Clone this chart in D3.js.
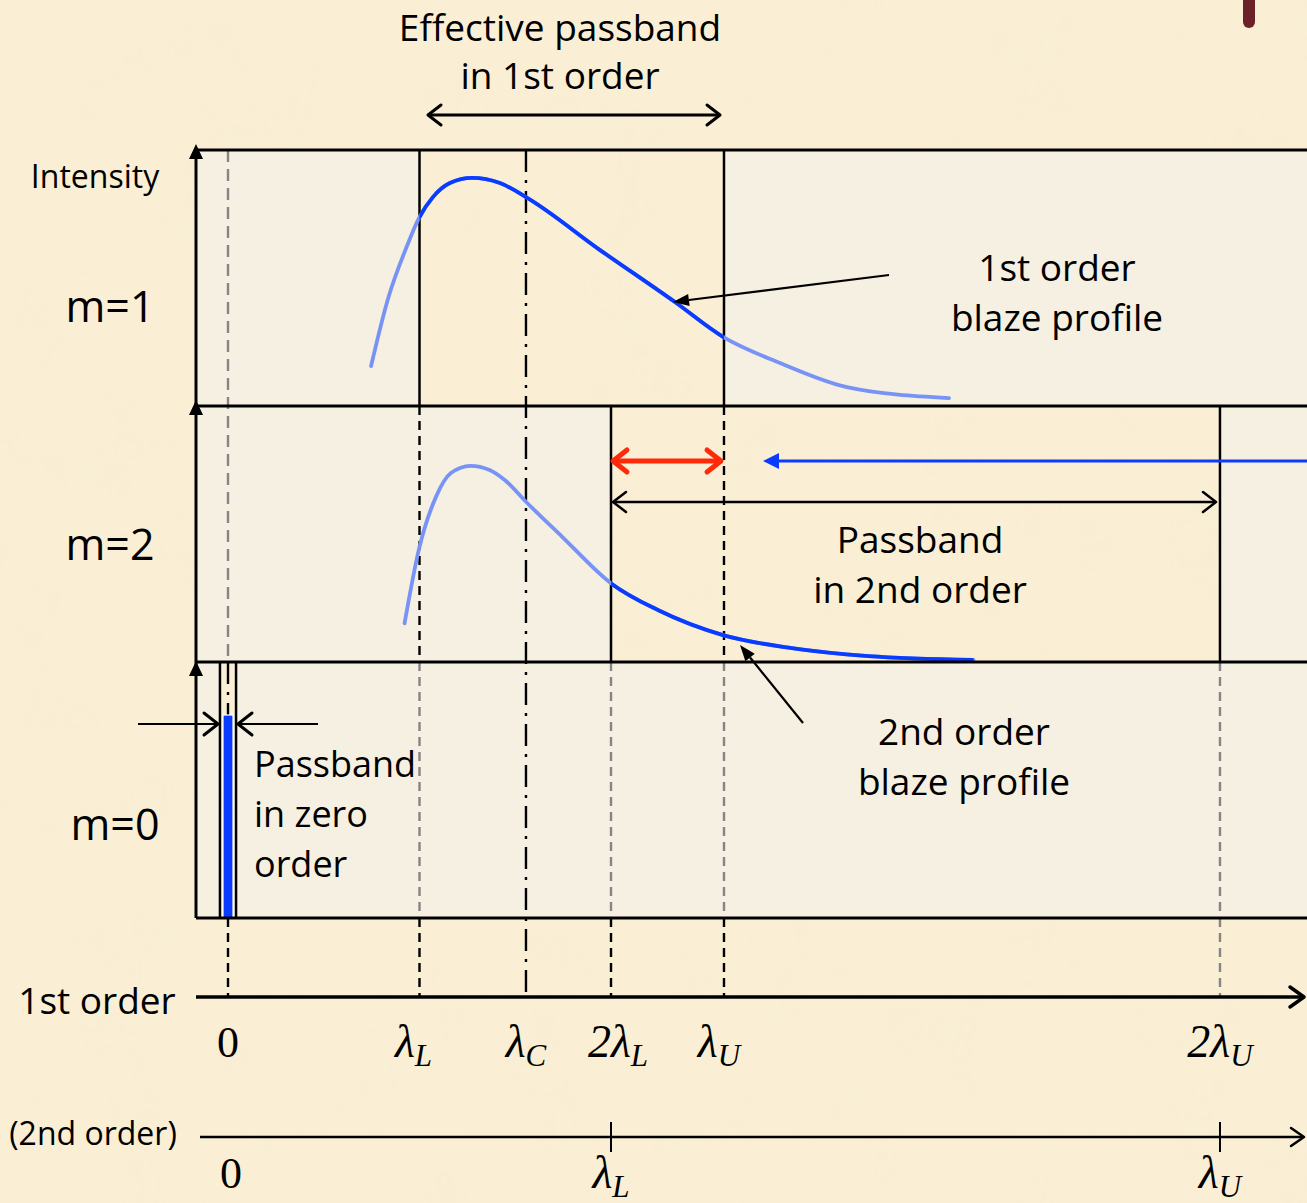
<!DOCTYPE html>
<html>
<head>
<meta charset="utf-8">
<title>Grating orders and passbands</title>
<script src="https://cdn.jsdelivr.net/npm/d3@7"></script>
<style>
  body { margin: 0; background: #f9eed4; }
  svg text { font-family: "Open Sans", Lato, sans-serif; fill: #000; }
  svg text.math { font-family: "Liberation Serif", "DejaVu Serif", serif; font-style: italic; }
</style>
</head>
<body>
<svg id="chart" width="1307" height="1203"></svg>
<script>
// wavelengths, in units of lambda_L
const lambdaL = 1.0, lambdaC = 1.556, lambdaU = 2.59;
const zeroBand = [-0.042, 0.042];

// blaze profiles (x in lambda_L units, relative intensity)
const blaze1X = [0.747, 0.836, 0.933, 0.997, 1.070, 1.159, 1.274, 1.420, 1.556, 1.943, 2.334, 2.585, 2.883, 3.232, 3.765];
const blaze1I = [0.156, 0.420, 0.622, 0.734, 0.816, 0.871, 0.891, 0.871, 0.816, 0.609, 0.406, 0.270, 0.168, 0.074, 0.031];
const blaze2X = [0.922, 0.996, 1.086, 1.164, 1.266, 1.366, 1.445, 1.556, 1.745, 2.001, 2.245, 2.585, 2.944, 3.344, 3.893];
const blaze2I = [0.151, 0.437, 0.645, 0.738, 0.766, 0.750, 0.711, 0.626, 0.489, 0.307, 0.203, 0.105, 0.054, 0.023, 0.008];

// axis ticks and labels
const ticks1 = [0, lambdaL, lambdaC, 2 * lambdaL, lambdaU, 2 * lambdaU];
const ticks1Main = ["0", "λ", "λ", "2λ", "λ", "2λ"];
const ticks1Sub = ["", "L", "C", "L", "U", "U"];
const ticks2 = [0, lambdaL, lambdaU];
const ticks2Main = ["0", "λ", "λ"];
const ticks2Sub = ["", "L", "U"];

const orders = ["m=1", "m=2", "m=0"];

const W = 1307, H = 1203;
const svg = d3.select("#chart");

const x = d3.scaleLinear().domain([0, 1]).range([228, 419.5]);
const x2 = d => x(2 * d);
const band = d3.scaleBand().domain(orders).range([150, 918]);
const bw = band.bandwidth();
const yI = m => d3.scaleLinear().domain([0, 1]).range([band(m) + bw, band(m)]);

const left = 196, axis1Y = 997, axis2Y = 1137;

const BLUE = "#0a3cff", LIGHT = "#7893f6";

// parchment
const defs = svg.append("defs");
const f = defs.append("filter").attr("id", "paper").attr("x", 0).attr("y", 0).attr("width", 1).attr("height", 1);
f.append("feTurbulence").attr("type", "fractalNoise").attr("baseFrequency", 0.012).attr("numOctaves", 3).attr("seed", 4);
f.append("feColorMatrix").attr("values", "0 0 0 0 0.93  0 0 0 0 0.84  0 0 0 0 0.62  0 0 0 0.35 -0.08");
f.append("feComposite").attr("in2", "SourceGraphic").attr("operator", "in");
svg.append("rect").attr("width", W).attr("height", H).attr("fill", "#faefd5");
svg.append("rect").attr("width", W).attr("height", H).attr("fill", "#fff").attr("filter", "url(#paper)");

// passbands per order
const passbands = {"m=1": [lambdaL, lambdaU], "m=2": [2 * lambdaL, 2 * lambdaU], "m=0": zeroBand};
orders.forEach(m => {
  const [a, b] = passbands[m];
  svg.append("rect").attr("x", left).attr("y", band(m)).attr("width", x(a) - left).attr("height", bw)
    .attr("fill", "#f4f0e4").attr("opacity", 0.85);
  svg.append("rect").attr("x", x(b)).attr("y", band(m)).attr("width", W - x(b)).attr("height", bw)
    .attr("fill", "#f4f0e4").attr("opacity", 0.85);
});

// vertical guides
function vline(xv, y0, y1, kind) {
  const s = svg.append("line").attr("x1", xv).attr("x2", xv).attr("y1", y0).attr("y2", y1)
    .attr("stroke", kind === "grey" || kind === "greyLong" ? "#858585" : "#000")
    .attr("stroke-width", kind === "solid" ? 2.5 : 2.4);
  if (kind === "dash" || kind === "grey") s.attr("stroke-dasharray", "9,6");
  if (kind === "greyLong") s.attr("stroke-dasharray", "12,7");
  if (kind === "dashdot") s.attr("stroke-dasharray", "22,8,3,8");
}
const t1 = band("m=1"), t2 = band("m=2"), t0 = band("m=0"), bot = t0 + bw;
vline(x(0), t1, t0, "greyLong");
vline(x(0), t0, t0 + 55, "dashdot");
vline(x(0), bot, axis1Y, "dash");
vline(x(lambdaL), t1, t2, "solid");
vline(x(lambdaL), t2, t0, "dash");
vline(x(lambdaL), t0, bot, "grey");
vline(x(lambdaL), bot, axis1Y, "dash");
vline(x(lambdaC), t1, axis1Y, "dashdot");
vline(x(2 * lambdaL), t2, t0, "solid");
vline(x(2 * lambdaL), t0, bot, "grey");
vline(x(2 * lambdaL), bot, axis1Y, "dash");
vline(x(lambdaU), t1, t2, "solid");
vline(x(lambdaU), t2, t0, "dash");
vline(x(lambdaU), t0, bot, "grey");
vline(x(lambdaU), bot, axis1Y, "dash");
vline(x(2 * lambdaU), t2, t0, "solid");
vline(x(2 * lambdaU), t0, bot, "grey");
vline(x(2 * lambdaU), bot, axis1Y, "grey");
vline(x(zeroBand[0]), t0, bot, "solid");
vline(x(zeroBand[1]), t0, bot, "solid");

// blaze curves
defs.append("clipPath").attr("id", "c1").append("rect")
  .attr("x", x(lambdaL)).attr("y", t1 - 20).attr("width", x(lambdaU) - x(lambdaL)).attr("height", bw + 20);
defs.append("clipPath").attr("id", "c2").append("rect")
  .attr("x", x(2 * lambdaL)).attr("y", t2 - 20).attr("width", W - x(2 * lambdaL)).attr("height", bw + 20);

function blaze(m, xs, is, clip) {
  const y = yI(m);
  const pts = xs.map((v, i) => [x(v), y(is[i])]);
  const line = d3.line().curve(d3.curveMonotoneX);
  svg.append("path").attr("d", line(pts)).attr("fill", "none").attr("stroke", LIGHT).attr("stroke-width", 3.8).attr("stroke-linecap", "round");
  svg.append("path").attr("d", line(pts)).attr("fill", "none").attr("stroke", BLUE).attr("stroke-width", 3.8).attr("clip-path", `url(#${clip})`);
}
blaze("m=1", blaze1X, blaze1I, "c1");
blaze("m=2", blaze2X, blaze2I, "c2");

// zero order passband bar
svg.append("rect").attr("x", x(0) - 5).attr("y", t0 + 53).attr("width", 10).attr("height", bw - 53)
  .attr("fill", BLUE).attr("stroke", "#fff").attr("stroke-width", 1.2);

// panel borders and axes
[t1, t2, t0, bot].forEach(yv => {
  svg.append("line").attr("x1", left).attr("x2", W).attr("y1", yv).attr("y2", yv).attr("stroke", "#000").attr("stroke-width", 3);
});
svg.append("line").attr("x1", left).attr("x2", left).attr("y1", t1).attr("y2", bot).attr("stroke", "#000").attr("stroke-width", 3);
[t1, t2, t0].forEach((yv, i) => {
  const tip = yv - (i < 2 ? 6 : 1);
  svg.append("path").attr("d", `M${left},${tip}L${left - 7},${tip + 15}L${left + 7},${tip + 15}Z`).attr("fill", "#000");
});

function chevron(xt, yt, dir, len, half, color, width) {
  svg.append("path").attr("d", `M${xt - dir * len},${yt - half}L${xt},${yt}L${xt - dir * len},${yt + half}`)
    .attr("fill", "none").attr("stroke", color).attr("stroke-width", width)
    .attr("stroke-linecap", "round").attr("stroke-linejoin", "round");
}
function hline(x1, x2v, yv, color, width) {
  svg.append("line").attr("x1", x1).attr("x2", x2v).attr("y1", yv).attr("y2", yv).attr("stroke", color).attr("stroke-width", width);
}
function dblArrow(xa, xb, yv, color, width, len, half) {
  hline(xa + 1, xb - 1, yv, color, width);
  chevron(xa, yv, -1, len, half, color, width);
  chevron(xb, yv, 1, len, half, color, width);
}
function pointer(xs, ys, xe, ye, color, width, len, half) {
  const a = Math.atan2(ye - ys, xe - xs);
  const bx = xe - len * Math.cos(a), by = ye - len * Math.sin(a);
  svg.append("line").attr("x1", xs).attr("y1", ys).attr("x2", bx).attr("y2", by).attr("stroke", color).attr("stroke-width", width);
  const px = -Math.sin(a) * half, py = Math.cos(a) * half;
  svg.append("path").attr("d", `M${xe},${ye}L${bx + px},${by + py}L${bx - px},${by - py}Z`).attr("fill", color);
}

// wavelength axes
hline(left, W - 4, axis1Y, "#000", 3.5);
chevron(W - 3, axis1Y, 1, 14, 10, "#000", 3.5);
hline(200, W - 4, axis2Y, "#000", 2.5);
chevron(W - 3, axis2Y, 1, 13, 9, "#000", 2.5);
ticks2.slice(1).forEach(v => {
  svg.append("line").attr("x1", x2(v)).attr("x2", x2(v)).attr("y1", axis2Y - 15).attr("y2", axis2Y + 15)
    .attr("stroke", "#000").attr("stroke-width", 2);
});

function mathLabel(xc, yb, main, sub, dx) {
  const t = svg.append("text").attr("class", "math").attr("x", xc + (dx || 0)).attr("y", yb)
    .attr("text-anchor", "middle").attr("font-size", 46);
  if (main === "0") { t.style("font-style", "normal").attr("font-size", 44).text("0"); return; }
  t.append("tspan").text(main);
  t.append("tspan").attr("font-size", 31).attr("dy", 9).text(sub);
}
ticks1.forEach((v, i) => mathLabel(x(v), 1057, ticks1Main[i], ticks1Sub[i], i === 3 ? 7 : (i === 4 ? -5 : (i === 1 ? -6 : 0))));
ticks2.forEach((v, i) => mathLabel(x2(v) + (i === 0 ? 3 : 0), 1188, ticks2Main[i], ticks2Sub[i], 0));

// arrows
dblArrow(428, 720, 115, "#000", 3, 13, 10);
dblArrow(613, 721, 461, "#ff2a0a", 5, 14, 11);
pointer(W, 461, 763, 461, BLUE, 3, 16, 8);
dblArrow(613, 1216, 502, "#000", 2.5, 13, 10);
pointer(889, 275, 673, 302, "#000", 2.2, 16, 6);
pointer(803, 723, 740, 645, "#000", 2.2, 16, 6);
chevron(218, 724, 1, 14, 11, "#000", 3);
hline(138, 216, 724, "#000", 2);
chevron(238, 724, -1, 14, 11, "#000", 3);
hline(240, 318, 724, "#000", 2);

// text
function lines(xc, yb, rows, size, anchor, gap) {
  rows.forEach((r, i) => svg.append("text").attr("x", xc).attr("y", yb + i * (gap || 50))
    .attr("text-anchor", anchor || "middle").attr("font-size", size).text(r));
}
lines(560, 41, ["Effective passband", "in 1st order"], 37, "middle", 48);
lines(1057, 281, ["1st order", "blaze profile"], 37);
lines(920, 553, ["Passband", "in 2nd order"], 37);
lines(964, 745, ["2nd order", "blaze profile"], 37);
lines(254, 777, ["Passband", "in zero", "order"], 36, "start");
lines(95, 188, ["Intensity"], 32);
lines(110, 322, ["m=1"], 43);
lines(110, 560, ["m=2"], 43);
lines(115, 840, ["m=0"], 43);
lines(97, 1014, ["1st order"], 37);
lines(93, 1145, ["(2nd order)"], 32);

// top-right tab
svg.append("rect").attr("x", 1243).attr("y", -12).attr("width", 12).attr("height", 40).attr("rx", 6).attr("fill", "#6b2127");
</script>
</body>
</html>
